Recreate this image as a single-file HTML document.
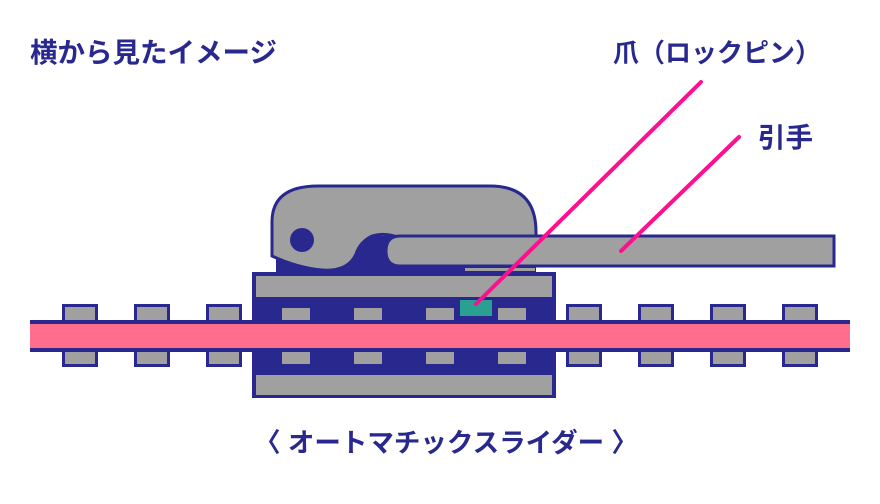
<!DOCTYPE html>
<html><head><meta charset="utf-8"><style>
html,body{margin:0;padding:0;background:#fff;width:880px;height:504px;overflow:hidden}
svg{display:block}
text{font-family:"Liberation Sans","Noto Sans CJK JP",sans-serif;font-weight:bold;fill:#29288f}
</style></head><body>
<svg width="880" height="504" viewBox="0 0 880 504" xmlns="http://www.w3.org/2000/svg">
<text x="30" y="62" font-size="27.5">横から見たイメージ</text>
<text x="613" y="62" font-size="26">爪（ロックピン）</text>
<text x="758" y="147" font-size="27.5">引手</text>
<text x="446" y="452" font-size="26.5" text-anchor="middle">〈 オートマチックスライダー 〉</text>

<g fill="#a0a0a0" stroke="#29288f" stroke-width="3">
<rect x="63.5" y="305.5" width="33" height="17"/><rect x="135.5" y="305.5" width="33" height="17"/><rect x="207.5" y="305.5" width="33" height="17"/>
<rect x="567.5" y="305.5" width="33" height="17"/><rect x="639.5" y="305.5" width="33" height="17"/><rect x="711.5" y="305.5" width="33" height="17"/><rect x="783.5" y="305.5" width="33" height="17"/>
<rect x="63.5" y="348.5" width="33" height="17"/><rect x="135.5" y="348.5" width="33" height="17"/><rect x="207.5" y="348.5" width="33" height="17"/>
<rect x="567.5" y="348.5" width="33" height="17"/><rect x="639.5" y="348.5" width="33" height="17"/><rect x="711.5" y="348.5" width="33" height="17"/><rect x="783.5" y="348.5" width="33" height="17"/>
</g>

<rect x="276" y="236" width="260" height="40" fill="#29288f"/>
<rect x="252" y="272" width="304" height="126" fill="#29288f"/>
<rect x="256" y="276" width="296" height="21" fill="#a0a0a0"/>
<rect x="256" y="375" width="296" height="20" fill="#a0a0a0"/>
<rect x="30" y="320" width="820" height="32" fill="#29288f"/>
<rect x="30" y="324" width="820" height="24" fill="#ff6e8c"/>
<g fill="#a0a0a0">
<rect x="282" y="308" width="28" height="12"/><rect x="354" y="308" width="28" height="12"/><rect x="426" y="308" width="28" height="12"/><rect x="498" y="308" width="28" height="12"/>
<rect x="282" y="352" width="28" height="12"/><rect x="354" y="352" width="28" height="12"/><rect x="426" y="352" width="28" height="12"/><rect x="498" y="352" width="28" height="12"/>
</g>
<rect x="460" y="300" width="32" height="16" fill="#2aa093"/>

<path d="M272,256 L272,222 Q272,186 318,186 L490,186 Q536,186 536,232 L536,238 L400,238 Q385,232 372,236 Q360,242 356,254 Q348,272 322,270 Q298,268 272,256 Z" fill="#a0a0a0" stroke="#29288f" stroke-width="3"/>
<circle cx="302" cy="240" r="12" fill="#29288f"/>
<rect x="465" y="268" width="70" height="3" fill="#a0a0a0"/>
<path d="M400,236 L834,236 L834,266 L400,266 Q386,266 386,251 Q386,236 400,236 Z" fill="#a0a0a0" stroke="#29288f" stroke-width="3"/>

<line x1="701" y1="82" x2="476" y2="304" stroke="#ff0f8f" stroke-width="4" stroke-linecap="round"/>
<line x1="739" y1="137" x2="621" y2="251" stroke="#ff0f8f" stroke-width="4" stroke-linecap="round"/>
</svg>
</body></html>
